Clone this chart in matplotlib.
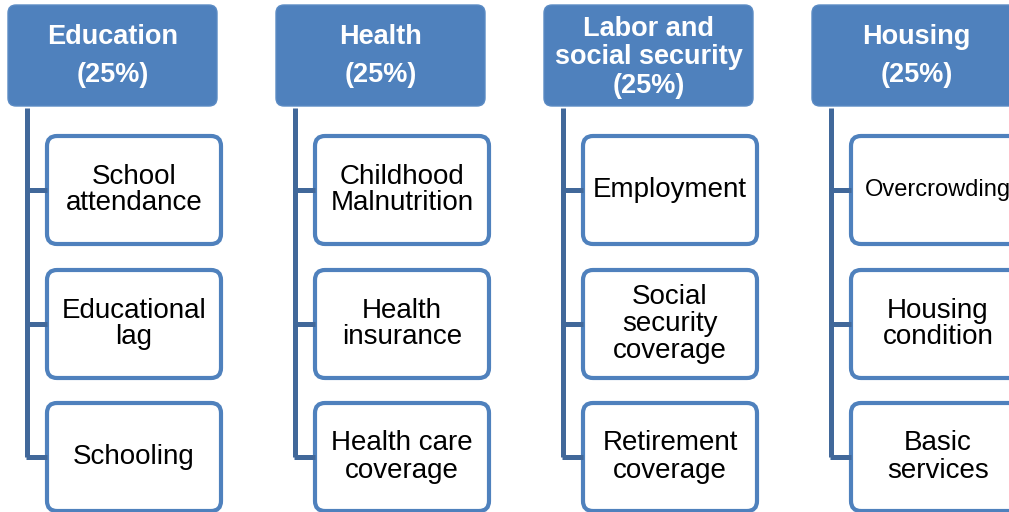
"""
Hierarchy diagram: four dimensions (25% each) and their indicators.
"""
import matplotlib
matplotlib.use("Agg")
import matplotlib.pyplot as plt
from matplotlib.patches import FancyBboxPatch

plt.rcParams['font.family'] = ['Liberation Sans', 'DejaVu Sans']

# data
dimensions = ["Education", "Health", "Labor and\nsocial security", "Housing"]
weights = [25, 25, 25, 25]
indicators = [
    ["School\nattendance", "Educational\nlag", "Schooling"],
    ["Childhood\nMalnutrition", "Health\ninsurance", "Health care\ncoverage"],
    ["Employment", "Social\nsecurity\ncoverage", "Retirement\ncoverage"],
    ["Overcrowding", "Housing\ncondition", "Basic\nservices"],
]

# layout (pixel units, y down)
W, H = 1009, 512
col_step = 268
head_x0, head_w, head_y0, head_h = 8, 209, 5, 101
child_dx, child_w, child_h = 39, 174, 108
child_y0 = [136, 270, 403]
line_dx = 19

head_color = "#4F81BD"
line_color = "#41689A"

fig = plt.figure(figsize=(W / 100, H / 100), dpi=100)
ax = fig.add_axes([0, 0, 1, 1])
ax.set_xlim(0, W)
ax.set_ylim(H, 0)
ax.axis("off")

for i, (dim, wgt, items) in enumerate(zip(dimensions, weights, indicators)):
    x0 = head_x0 + i * col_step
    # header
    ax.add_patch(FancyBboxPatch((x0, head_y0), head_w, head_h,
                                boxstyle="round,pad=0,rounding_size=8",
                                fc=head_color, ec="#5B8BC4", lw=1))
    label = f"{dim}\n({wgt}%)"
    nlines = label.count("\n") + 1
    ax.text(x0 + head_w / 2, head_y0 + head_h / 2 + (2 if nlines > 2 else 1),
            label, ha="center", va="center",
            color="white", fontsize=19.5, fontweight="bold",
            linespacing=1.13 if nlines > 2 else 1.6)

    # connector
    lx = x0 + line_dx
    cy = [y + child_h / 2 for y in child_y0]
    ax.plot([lx, lx], [head_y0 + head_h + 2, cy[-1]], color=line_color,
            lw=3.6, solid_capstyle="butt", solid_joinstyle="miter")
    for y in cy:
        ax.plot([lx - 1.3, x0 + child_dx], [y, y], color=line_color,
                lw=3.6, solid_capstyle="butt")

    # children
    for y, item in zip(child_y0, items):
        cx = x0 + child_dx
        ax.add_patch(FancyBboxPatch((cx, y), child_w, child_h,
                                    boxstyle="round,pad=0,rounding_size=10",
                                    fc="white", ec=head_color, lw=3))
        fs = 17 if item == "Overcrowding" else 20
        ax.text(cx + child_w / 2, y + child_h / 2, item, ha="center",
                va="center", color="black", fontsize=fs, linespacing=1.05)

fig.savefig("out.png", dpi=100)
